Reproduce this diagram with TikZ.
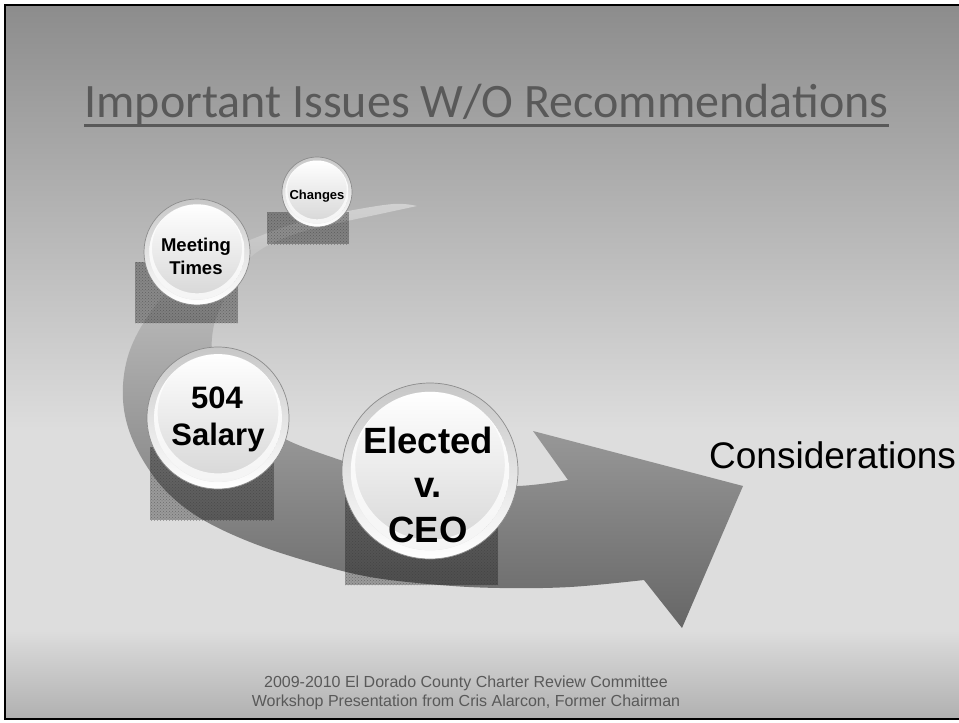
\documentclass[tikz,border=0pt]{standalone}
\usepackage{fontspec}
\setmainfont{Liberation Sans}
\newfontfamily\titlefont{Carlito}
\usetikzlibrary{patterns}
\definecolor{bgtop}{gray}{0.55}
\definecolor{bgmid}{gray}{0.867}
\definecolor{bgbot}{gray}{0.69}
\definecolor{titlegray}{gray}{0.35}
\definecolor{arrtop}{gray}{0.82}
\definecolor{arrmid}{gray}{0.66}
\definecolor{arrbot}{gray}{0.40}
\definecolor{ringtop}{gray}{0.78}
\definecolor{ringline}{gray}{0.55}
\definecolor{facebot}{gray}{0.84}
\newcommand\mybubble[4]{%
  \node[bubble, minimum size=2*#4] (#1) at (#2,#3) {};
  \shade[top color=white, bottom color=facebot] (#2,#3) circle[radius=0.9*#4];
  \begin{scope}
    \clip (#2,#3) circle[radius=0.9*#4];
    \fill[white, opacity=0.75, even odd rule] (#2,#3) circle[radius=0.9*#4]
      (#2,#3-0.07*#4) circle[radius=0.85*#4];
  \end{scope}
}
\tikzset{
  bubble/.style={circle, inner sep=0pt, draw=ringline, line width=0.7pt,
    top color=ringtop, bottom color=white},
  halftone/.style={fill=black, fill opacity=0.3},
  halfdots/.style={pattern=crosshatch dots, pattern color=black!80, opacity=0.45},
  lbl/.style={anchor=base, inner sep=0pt, text=black, font=\bfseries},
}
\begin{document}
\begin{tikzpicture}[x=1pt,y=-1pt]
\useasboundingbox (0,0) rectangle (959,723);
% background
\fill[white] (0,0) rectangle (959,723);
\shade[top color=bgtop, bottom color=bgmid] (5,5) rectangle (965,430);
\fill[bgmid] (5,429.5) rectangle (965,630.5);
\shade[top color=bgmid, bottom color=bgbot] (5,630) rectangle (965,719);
\draw[black, line width=2.5pt] (5,5) rectangle (965,719);

% title
\node[anchor=base, inner sep=0pt, text=titlegray,
      font=\titlefont\fontsize{48}{52}\selectfont] (title) at (486.5,117)
      {Important Issues W/O Recommendations};
\draw[titlegray, line width=3pt] ([yshift=-8pt]title.base west) -- ([yshift=-8pt]title.base east);

% curved arrow
\shade[top color=arrtop, middle color=arrmid, bottom color=arrbot]
  (417,206)
  -- plot[smooth, tension=0.6] coordinates {(417,206) (393,204) (343,212) (300,222)
     (260,236) (215,256) (175,284) (148,316) (130,350) (123,385) (126,420)
     (140,455) (165,490) (200,518) (250,542) (310,562) (370,577) (440,585)
     (500,588) (570,587) (644,580)}
  -- (682,628) -- (743,486) -- (533,431) -- (568,480)
  -- plot[smooth, tension=0.6] coordinates {(568,480) (518,486) (450,484)
     (390,476) (343,461) (287,440) (250,415) (226,386) (213,356) (213,330)
     (221,306) (236,276) (257,252) (295,234) (343,222) (380,214) (417,206)}
  -- cycle;

% halftone shadows
\foreach \a/\b/\c/\d in {267/212/349/244, 135/262/238/323, 150/447/274/520, 345/495/498/585}{
  \fill[halftone] (\a,\b) rectangle (\c,\d);
  \fill[halfdots] (\a,\b) rectangle (\c,\d);
}

% bubbles
\mybubble{changes}{317}{192}{35}
\mybubble{meeting}{197}{252}{53}
\mybubble{salary}{218}{418}{71}
\mybubble{elected}{430}{471}{88}

% bubble labels
\node[lbl, font=\bfseries\fontsize{13}{15}\selectfont] (t1) at (317,199) {Changes};
\node[lbl, font=\bfseries\fontsize{18.5}{22}\selectfont] (t2) at (196,251) {Meeting};
\node[lbl, font=\bfseries\fontsize{18.5}{22}\selectfont] (t3) at (196,274) {Times};
\node[lbl, font=\bfseries\fontsize{31}{36}\selectfont] (t4) at (217,408) {504};
\node[lbl, font=\bfseries\fontsize{31}{36}\selectfont] (t5) at (218,445) {Salary};
\node[lbl, font=\bfseries\fontsize{36.5}{44}\selectfont] (t6) at (428,453) {Elected};
\node[lbl, font=\bfseries\fontsize{36.5}{44}\selectfont] (t7) at (428,497) {v.};
\node[lbl, font=\bfseries\fontsize{36.5}{44}\selectfont] (t8) at (428,542) {CEO};

% considerations
\node[anchor=base west, inner sep=0pt, font=\fontsize{37}{44}\selectfont] (cons) at (709,468) {Considerations};

% footer
\node[anchor=base, inner sep=0pt, text=titlegray, font=\fontsize{16}{19}\selectfont] (f1) at (466,687)
  {2009-2010 El Dorado County Charter Review Committee};
\node[anchor=base, inner sep=0pt, text=titlegray, font=\fontsize{16}{19}\selectfont] (f2) at (466,706)
  {Workshop Presentation from Cris Alarcon, Former Chairman};
\end{tikzpicture}
\end{document}
